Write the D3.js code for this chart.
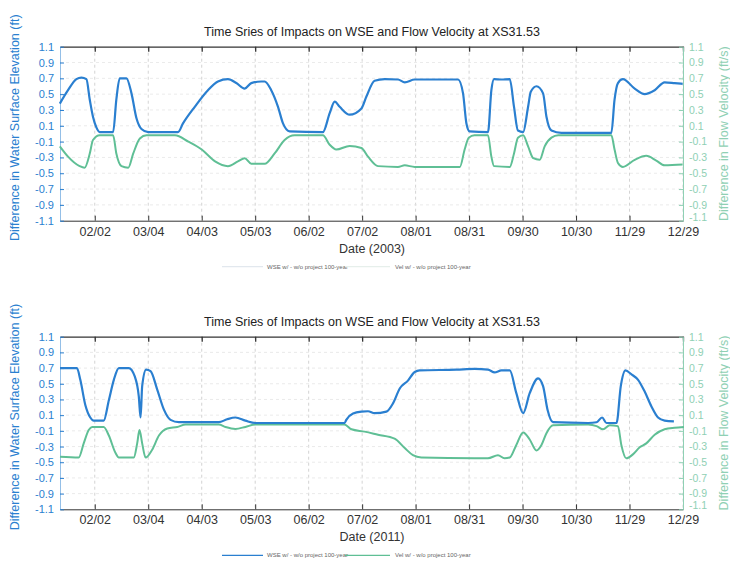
<!DOCTYPE html>
<html>
<head>
<meta charset="utf-8">
<title>Time Sries of Impacts on WSE and Flow Velocity at XS31.53</title>
<style>
  body { margin: 0; background: #fff; }
  svg { font-family: "Liberation Sans", Arial, sans-serif; }
</style>
</head>
<body>
<svg width="730" height="565"></svg>
<script src="https://d3js.org/d3.v7.min.js"></script>
<script>
// tick labels (every 30 days, MATLAB datetick style)
var tickLabels = ["02/02", "03/04", "04/03", "05/03", "06/02", "07/02",
                  "08/01", "08/31", "09/30", "10/30", "11/29", "12/29"];
var yTicks = [1.1, 0.9, 0.7, 0.5, 0.3, 0.1, -0.1, -0.3, -0.5, -0.7, -0.9, -1.1];

// [day of year, difference]
var wse2003 = [[13.4,0.38],[18,0.55],[22.7,0.69],[25.5,0.71],[28.3,0.69],[30.2,0.43],[32,0.215],[33.9,0.08],
  [35.8,0.02],[43.3,0.02],[45.1,0.43],[47,0.70],[50.8,0.70],[53.6,0.51],[56.4,0.195],[59.2,0.06],[63,0.02],
  [79.7,0.02],[82.5,0.13],[89.1,0.34],[96.5,0.55],[102.1,0.66],[107.7,0.69],[112.4,0.64],[117.1,0.57],
  [120.8,0.64],[126.4,0.66],[128.3,0.66],[132,0.55],[135.8,0.34],[138.6,0.13],[142.3,0.03],[161,0.02],
  [164.8,0.26],[167.6,0.405],[170.4,0.34],[176,0.24],[182.6,0.32],[185.4,0.47],[190,0.67],[195.7,0.69],
  [203.1,0.685],[206.9,0.65],[212.5,0.685],[236.8,0.685],[239.6,0.51],[241.5,0.13],[243.3,0.03],[253.6,0.02],
  [255.5,0.55],[257,0.69],[261.1,0.685],[265.8,0.69],[268.2,0.34],[270.4,0.04],[273.3,0.02],[276.1,0.34],
  [277.6,0.53],[280.8,0.6],[284.5,0.51],[286.4,0.215],[289.2,0.04],[294.8,0.01],[322.8,0.01],[324.6,0.43],
  [326.5,0.64],[329.3,0.69],[335.9,0.57],[341.5,0.5],[347.1,0.55],[352.7,0.65],[358.3,0.64],[362.8,0.63]];

var vel2003 = [[13.4,-0.16],[18,-0.29],[24.5,-0.41],[27.3,-0.43],[30.2,-0.25],[32,-0.08],[35.8,-0.02],
  [43.3,-0.02],[45.1,-0.25],[48,-0.41],[51.8,-0.43],[54.6,-0.25],[58.3,-0.06],[62,-0.02],[78,-0.02],
  [85.5,-0.1],[93,-0.2],[100.5,-0.35],[107.7,-0.41],[113.3,-0.35],[117.1,-0.31],[120.8,-0.38],[128.3,-0.38],
  [133.9,-0.25],[139.5,-0.08],[145.1,-0.02],[161,-0.02],[164.8,-0.14],[168.5,-0.2],[176,-0.155],[182.6,-0.18],
  [186.3,-0.29],[191.9,-0.41],[203.1,-0.42],[206.9,-0.4],[212.5,-0.42],[237.8,-0.42],[240.5,-0.2],
  [242.8,-0.05],[246,-0.02],[253.6,-0.02],[255.5,-0.29],[257,-0.41],[265.8,-0.42],[268.2,-0.25],
  [270.4,-0.05],[273.3,-0.02],[276.1,-0.16],[279,-0.31],[282.6,-0.33],[285.4,-0.16],[289.2,-0.05],
  [293,-0.02],[322.8,-0.02],[324.6,-0.2],[326.5,-0.37],[329.3,-0.42],[335.9,-0.33],[342.4,-0.28],
  [348,-0.34],[352.7,-0.4],[362.8,-0.39]];

var wse2011 = [[13.5,0.70],[23,0.70],[24.9,0.55],[27.7,0.23],[30.5,0.07],[32.4,0.03],[38,0.03],[40.9,0.29],
  [43.7,0.55],[46.5,0.70],[52.1,0.70],[55.5,0.59],[57.7,0.34],[58.7,0.07],[59.6,0.47],[61.8,0.68],[64.3,0.66],
  [68,0.43],[71.8,0.17],[75.5,0.04],[80.2,0.01],[102.6,0.01],[107.2,0.047],[111.9,0.07],[117.5,0.03],
  [123.1,0.0],[173.2,0.0],[174.1,0.04],[177.9,0.12],[182.6,0.145],[186.3,0.15],[190,0.125],[196.6,0.145],
  [200.3,0.25],[204.1,0.44],[208.7,0.54],[212.5,0.65],[215.3,0.67],[235.9,0.68],[246.1,0.69],[253.6,0.68],
  [257.3,0.645],[261.1,0.67],[265.8,0.67],[269.5,0.38],[273.3,0.125],[277,0.38],[281.7,0.57],[284.5,0.47],
  [287,0.17],[290.1,0.01],[309.8,0.0],[314.5,0.01],[317.6,0.07],[320.1,0.0],[325.7,0.0],[328.1,0.47],
  [330.7,0.67],[334.1,0.62],[337.8,0.55],[341.5,0.4],[345.3,0.21],[349,0.07],[352.7,0.03],[357.9,0.02]];

var vel2011 = [[13.5,-0.43],[24,-0.44],[26.8,-0.26],[29.6,-0.09],[31.5,-0.05],[38,-0.05],[40.9,-0.16],
  [44.6,-0.38],[46.5,-0.44],[54.9,-0.44],[56.8,-0.26],[58.1,-0.09],[59.6,-0.26],[61.5,-0.44],[65.2,-0.34],
  [69,-0.16],[73.7,-0.07],[79.3,-0.05],[84,-0.02],[102.6,-0.02],[106.3,-0.05],[111.9,-0.075],[117.5,-0.05],
  [123.1,-0.02],[173,-0.02],[177,-0.08],[184.4,-0.11],[191.9,-0.15],[201.2,-0.2],[206.9,-0.32],[211.5,-0.41],
  [216.2,-0.44],[246.1,-0.45],[253.6,-0.45],[259.2,-0.41],[262.9,-0.45],[265.8,-0.44],[269.5,-0.28],
  [273.3,-0.12],[277,-0.21],[280.8,-0.35],[283.6,-0.28],[286.4,-0.13],[290.1,-0.03],[309.8,-0.02],
  [314.5,-0.04],[318.2,-0.08],[321.9,-0.03],[326.5,-0.04],[328.4,-0.28],[331.2,-0.45],[334.9,-0.4],
  [338.7,-0.31],[342.4,-0.26],[347.1,-0.15],[352.7,-0.08],[358.3,-0.06],[363.5,-0.05]];

var titleText = "Time Sries of Impacts on WSE and Flow Velocity at XS31.53";
var legendWse = "WSE w/ - w/o project 100-year",
    legendVel = "Vel w/ - w/o project 100-year";

var svg = d3.select("svg");
var blue = "#2a7fd0", green = "#5fbf95", lightGreen = "#8fd0b4";

function dayToDate(year, doy) {
  return new Date(new Date(year, 0, 1).getTime() + (doy - 1) * 864e5);
}

function panel(year, top, bottom, wse, vel, faintLegend) {
  var x = d3.scaleTime()
      .domain([dayToDate(year, 13.5), dayToDate(year, 363)])
      .range([60, 683]);
  var y = d3.scaleLinear().domain([-1.1, 1.1]).range([bottom, top]);
  var parse = d3.timeParse("%m/%d/%Y");
  var tickDates = tickLabels.map(function(t) { return parse(t + "/" + year); });

  var g = svg.append("g");

  // grid
  g.append("g").selectAll("line").data(tickDates).enter().append("line")
      .attr("x1", function(d) { return x(d); }).attr("x2", function(d) { return x(d); })
      .attr("y1", top).attr("y2", bottom)
      .attr("stroke", "#c8c8c8").attr("stroke-dasharray", "3,3").attr("stroke-width", 0.8);
  g.append("g").selectAll("line").data(yTicks.slice(1, -1)).enter().append("line")
      .attr("x1", 60).attr("x2", 683)
      .attr("y1", function(d) { return y(d); }).attr("y2", function(d) { return y(d); })
      .attr("stroke", "#e4e4e4").attr("stroke-dasharray", "3,3").attr("stroke-width", 0.8);

  // axes
  var xb = g.append("g").attr("transform", "translate(0," + bottom + ")")
      .call(d3.axisBottom(x).tickValues(tickDates).tickSize(-5).tickSizeOuter(0)
        .tickPadding(6).tickFormat(d3.timeFormat("%m/%d")));
  xb.selectAll("text").attr("font-size", 12.5).attr("fill", "#333");
  xb.selectAll("line, path").attr("stroke", "#333");

  var xt = g.append("g").attr("transform", "translate(0," + top + ")")
      .call(d3.axisTop(x).tickValues(tickDates).tickSize(-5).tickSizeOuter(0).tickFormat(""));
  xt.selectAll("line, path").attr("stroke", "#333").attr("stroke-width", 1.3);

  var yl = g.append("g").attr("transform", "translate(60,0)")
      .call(d3.axisLeft(y).tickValues(yTicks).tickSize(-4).tickSizeOuter(0).tickPadding(6)
        .tickFormat(function(d) { return d.toFixed(1); }));
  yl.selectAll("text").attr("font-size", 11).attr("fill", blue);
  yl.selectAll("line, path").attr("stroke", blue);
  yl.select(".domain").attr("stroke-opacity", 0.5);

  var yr = g.append("g").attr("transform", "translate(683,0)")
      .call(d3.axisRight(y).tickValues(yTicks).tickSize(-4).tickSizeOuter(0).tickPadding(6)
        .tickFormat(function(d) { return d.toFixed(1); }));
  yr.selectAll("text").attr("font-size", 10.5).attr("fill", lightGreen);
  yr.selectAll("line, path").attr("stroke", lightGreen);
  // keep the lowest right label clear of the last date label
  yr.selectAll(".tick text").filter(function(d) { return d === -1.1; }).attr("dy", "-0.05em");

  // lines
  var line = d3.line()
      .x(function(d) { return x(dayToDate(year, d[0])); })
      .y(function(d) { return y(d[1]); })
      .curve(d3.curveMonotoneX);
  g.append("path").datum(vel).attr("d", line)
      .attr("fill", "none").attr("stroke", green).attr("stroke-width", 2);
  g.append("path").datum(wse).attr("d", line)
      .attr("fill", "none").attr("stroke", blue).attr("stroke-width", 2.2);

  // titles
  g.append("text").attr("x", 372).attr("y", top - 11).attr("text-anchor", "middle")
      .attr("font-size", 12.5).attr("fill", "#222").text(titleText);
  g.append("text").attr("x", 372).attr("y", bottom + 32).attr("text-anchor", "middle")
      .attr("font-size", 12.5).attr("fill", "#333").text("Date (" + year + ")");

  var midY = (top + bottom) / 2;
  g.append("text").attr("transform", "translate(19," + (midY - 6) + ") rotate(-90)")
      .attr("text-anchor", "middle").attr("font-size", 12.5).attr("fill", blue)
      .text("Difference in Water Surface Elevation (ft)");
  g.append("text").attr("transform", "translate(728," + midY + ") rotate(-90)")
      .attr("text-anchor", "middle").attr("font-size", 12.5).attr("fill", lightGreen)
      .text("Difference in Flow Velocity (ft/s)");

  // legend
  var ly = bottom + 46;
  var lg = g.append("g").attr("font-size", 6).attr("fill", "#666");
  lg.append("line").attr("x1", 222).attr("x2", 263).attr("y1", ly).attr("y2", ly)
      .attr("stroke", faintLegend ? "#e2e8ee" : blue).attr("stroke-width", 1.2);
  lg.append("text").attr("x", 267).attr("y", ly + 2).text(legendWse);
  lg.append("line").attr("x1", 345).attr("x2", 390).attr("y1", ly).attr("y2", ly)
      .attr("stroke", faintLegend ? "#e6efeb" : green).attr("stroke-width", 1.2);
  lg.append("text").attr("x", 395).attr("y", ly + 2).text(legendVel);
}

panel(2003, 46.7, 220.7, wse2003, vel2003, true);
panel(2011, 336.7, 509.3, wse2011, vel2011, false);
</script>
</body>
</html>
